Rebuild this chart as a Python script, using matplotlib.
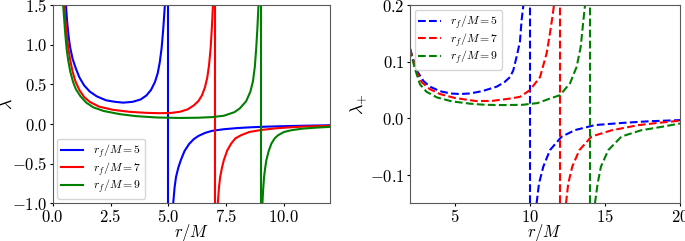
import matplotlib
matplotlib.use("Agg")
import matplotlib.pyplot as plt
from matplotlib.ticker import FuncFormatter

plt.rcParams['font.family'] = 'serif'
plt.rcParams['font.serif'] = ['DejaVu Serif']
plt.rcParams['mathtext.fontset'] = 'cm'

# r_f / M values and colours
rf_vals = [5, 7, 9]
colors = ['blue', 'red', 'green']

# ---- left panel: lambda (branches left / right of r = r_f) ----
lam_left_r = {
    5: [0.57, 0.62, 0.68, 0.75, 0.86, 1.0, 1.15, 1.35, 1.6, 1.9, 2.3, 2.7, 3.05, 3.45, 3.8,
        4.05, 4.25, 4.42, 4.54, 4.63, 4.71, 4.78, 4.85],
    7: [0.5, 0.55, 0.6, 0.67, 0.76, 0.86, 0.98, 1.15, 1.36, 1.6, 2.0, 2.6, 3.3, 4.0, 4.6, 5.1,
        5.5, 5.83, 6.1, 6.3, 6.45, 6.58, 6.68, 6.76, 6.83, 6.88, 6.93],
    9: [0.45, 0.5, 0.54, 0.6, 0.67, 0.76, 0.88, 1.0, 1.2, 1.45, 1.76, 2.2, 2.9, 3.6, 4.5, 5.5,
        6.3, 6.9, 7.4, 7.86, 8.1, 8.37, 8.55, 8.66, 8.74, 8.8, 8.85, 8.9],
}
lam_left_v = {
    5: [1.5, 1.3, 1.12, 0.97, 0.82, 0.7, 0.59, 0.49, 0.41, 0.35, 0.3, 0.28, 0.27, 0.28, 0.31,
        0.36, 0.43, 0.53, 0.64, 0.78, 0.96, 1.2, 1.5],
    7: [1.5, 1.3, 1.14, 0.96, 0.8, 0.66, 0.54, 0.43, 0.34, 0.28, 0.22, 0.18, 0.155, 0.142, 0.137,
        0.14, 0.155, 0.185, 0.235, 0.29, 0.36, 0.46, 0.58, 0.74, 0.96, 1.2, 1.5],
    9: [1.5, 1.3, 1.14, 0.95, 0.8, 0.66, 0.53, 0.44, 0.35, 0.27, 0.21, 0.165, 0.125, 0.1, 0.083,
        0.077, 0.08, 0.088, 0.105, 0.15, 0.2, 0.29, 0.41, 0.54, 0.72, 0.95, 1.2, 1.5],
}
lam_right_r = {
    5: [5.21, 5.27, 5.33, 5.43, 5.54, 5.7, 5.9, 6.1, 6.3, 6.6, 6.9, 7.4, 8.0, 8.6, 9.3, 10.2,
        11.0, 12.0],
    7: [7.14, 7.19, 7.24, 7.32, 7.4, 7.55, 7.72, 7.9, 8.15, 8.5, 9.0, 9.6, 10.3, 11.0, 12.0],
    9: [9.07, 9.1, 9.14, 9.19, 9.24, 9.34, 9.46, 9.6, 9.75, 10.0, 10.33, 10.8, 11.4, 12.0],
}
lam_right_v = {
    5: [-1.0, -0.8, -0.67, -0.55, -0.455, -0.34, -0.25, -0.19, -0.15, -0.11, -0.085, -0.065,
        -0.05, -0.04, -0.032, -0.025, -0.02, -0.015],
    7: [-1.0, -0.8, -0.67, -0.55, -0.455, -0.33, -0.245, -0.18, -0.14, -0.1, -0.075, -0.055,
        -0.04, -0.03, -0.022],
    9: [-1.0, -0.83, -0.67, -0.55, -0.455, -0.34, -0.245, -0.18, -0.14, -0.1, -0.077, -0.058,
        -0.045, -0.035],
}

# ---- right panel: lambda_+ (asymptote at r = 2 r_f) ----
lp_asym = [10, 12, 14]
lp_left_r = {
    5: [2.0, 2.44, 2.9, 3.33, 4.0, 4.7, 5.33, 6.0, 6.8, 7.78, 8.3, 8.67, 8.89, 9.11, 9.33,
        9.44, 9.56],
    7: [2.0, 2.4, 2.78, 3.3, 4.0, 5.0, 6.44, 7.5, 8.67, 9.33, 10.0, 10.67, 11.11, 11.33, 11.5,
        11.6],
    9: [2.0, 2.3, 2.67, 3.1, 3.8, 4.8, 6.0, 7.0, 8.2, 9.5, 10.5, 11.33, 12.0, 12.67, 13.11,
        13.38, 13.56, 13.67],
}
lp_left_v = {
    5: [0.123, 0.085, 0.066, 0.056, 0.048, 0.044, 0.043, 0.044, 0.048, 0.056, 0.064, 0.073,
        0.085, 0.109, 0.135, 0.173, 0.2],
    7: [0.123, 0.085, 0.064, 0.052, 0.043, 0.036, 0.0305, 0.031, 0.035, 0.038, 0.05, 0.073,
        0.115, 0.15, 0.18, 0.2],
    9: [0.123, 0.09, 0.06, 0.047, 0.037, 0.03, 0.026, 0.024, 0.0235, 0.024, 0.027, 0.035,
        0.041, 0.062, 0.091, 0.126, 0.173, 0.2],
}
lp_right_r = {
    5: [10.44, 10.6, 10.89, 11.33, 12.1, 13.0, 14.33, 16.3, 18.0, 20.0],
    7: [12.4, 12.55, 12.82, 13.29, 14.1, 15.44, 17.2, 18.5, 20.0],
    9: [14.33, 14.51, 14.73, 15.22, 16.1, 17.4, 18.8, 20.0],
}
lp_right_v = {
    5: [-0.15, -0.115, -0.085, -0.056, -0.0324, -0.0206, -0.0118, -0.0077, -0.005, -0.003],
    7: [-0.15, -0.115, -0.085, -0.056, -0.032, -0.021, -0.012, -0.008, -0.004],
    9: [-0.15, -0.115, -0.085, -0.056, -0.032, -0.021, -0.0148, -0.009],
}

fig = plt.figure(figsize=(6.85, 2.41), dpi=100)
ax1 = fig.add_axes([0.077, 0.156, 0.405, 0.823])
ax2 = fig.add_axes([0.5985, 0.156, 0.3942, 0.823])

for rf, c in zip(rf_vals, colors):
    ax1.plot(lam_left_r[rf], lam_left_v[rf], color=c, lw=1.5, label=f"$r_f/M = {rf}$")
    ax1.plot(lam_right_r[rf], lam_right_v[rf], color=c, lw=1.5)
    ax1.axvline(rf, color=c, lw=1.5)

for rf, a, c in zip(rf_vals, lp_asym, colors):
    ax2.plot(lp_left_r[rf], lp_left_v[rf], color=c, lw=1.5, ls='--', label=f"$r_f/M = {rf}$")
    ax2.plot(lp_right_r[rf], lp_right_v[rf], color=c, lw=1.5, ls='--')
    ax2.axvline(a, color=c, lw=1.5, ls='--')

ax1.set_xlim(0, 12)
ax1.set_ylim(-1.0, 1.5)
ax1.set_xticks([0, 2.5, 5, 7.5, 10])
ax1.set_yticks([-1.0, -0.5, 0.0, 0.5, 1.0, 1.5])
ax1.xaxis.set_major_formatter(FuncFormatter(lambda v, p: f"${v:.1f}$"))
ax1.yaxis.set_major_formatter(FuncFormatter(lambda v, p: f"${v:.1f}$"))
ax1.set_xlabel(r"$r/M$", fontsize=12)
ax1.set_ylabel(r"$\lambda$", fontsize=13)
ax1.xaxis.set_label_coords(0.5, -0.095)
ax1.yaxis.set_label_coords(-0.132, 0.5)
ax1.legend(loc='lower left', fontsize=8.5, handlelength=1.9, labelspacing=0.0,
           borderpad=0.3, borderaxespad=0.4)

ax2.set_xlim(2, 20)
ax2.set_ylim(-0.15, 0.2)
ax2.set_xticks([5, 10, 15, 20])
ax2.set_yticks([-0.1, 0.0, 0.1, 0.2])
ax2.xaxis.set_major_formatter(FuncFormatter(lambda v, p: f"${v:.0f}$"))
ax2.yaxis.set_major_formatter(FuncFormatter(lambda v, p: f"${v:.1f}$"))
ax2.set_xlabel(r"$r/M$", fontsize=12)
ax2.set_ylabel(r"$\lambda_{+}$", fontsize=13)
ax2.xaxis.set_label_coords(0.5, -0.095)
ax2.yaxis.set_label_coords(-0.15, 0.5)
ax2.legend(loc='upper left', fontsize=8.5, handlelength=1.9, labelspacing=0.0,
           borderpad=0.3, borderaxespad=0.4)

for ax in (ax1, ax2):
    ax.tick_params(labelsize=12, length=2.5, pad=1.5)
    for s in ax.spines.values():
        s.set_color('0.35')

fig.savefig("out.png", dpi=100)
